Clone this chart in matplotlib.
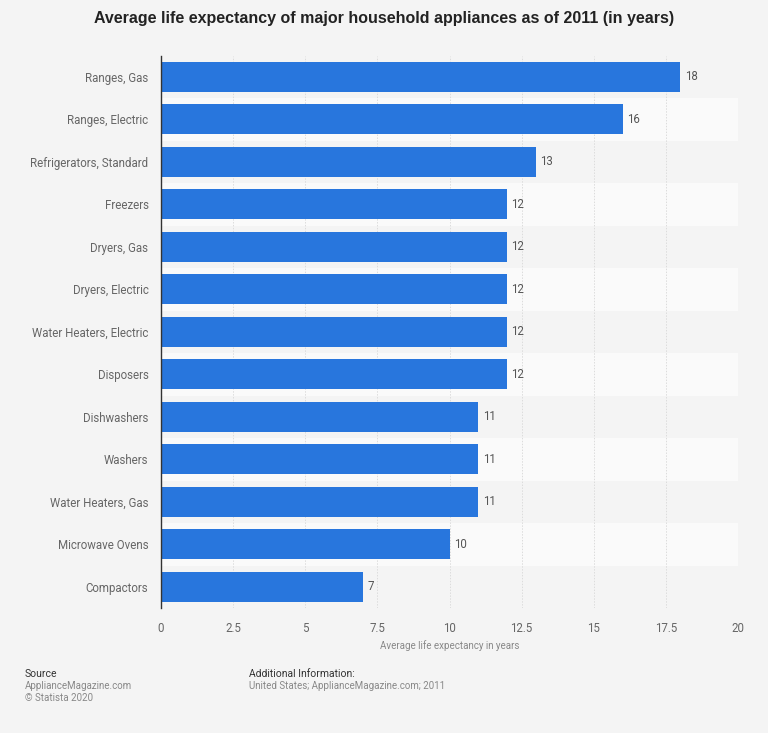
import matplotlib
matplotlib.use("Agg")
import matplotlib.pyplot as plt

categories = ["Ranges, Gas", "Ranges, Electric", "Refrigerators, Standard", "Freezers",
              "Dryers, Gas", "Dryers, Electric", "Water Heaters, Electric", "Disposers",
              "Dishwashers", "Washers", "Water Heaters, Gas", "Microwave Ovens", "Compactors"]
values = [18, 16, 13, 12, 12, 12, 12, 12, 11, 11, 11, 10, 7]
xticks = [0, 2.5, 5, 7.5, 10, 12.5, 15, 17.5, 20]
xtick_labels = ["0", "2.5", "5", "7.5", "10", "12.5", "15", "17.5", "20"]

plt.rcParams['font.family'] = ['Roboto', 'DejaVu Sans']
BG = "#f4f4f4"
fig = plt.figure(figsize=(7.68, 7.33), dpi=100, facecolor=BG)
ax = fig.add_axes([161/768, 1-608/733, (738-161)/768, (608-55.5)/733])
ax.set_facecolor(BG)

n = len(categories)
ypos = list(range(n))
for i in ypos:
    if i % 2 == 1:
        ax.axhspan(i-0.5, i+0.5, color="#fafafa", zorder=0, lw=0)

ax.barh(ypos, values, height=0.7, color="#2876dd", zorder=3)
for y, v in zip(ypos, values):
    ax.text(v + 0.15, y, str(v), va="center", ha="left", fontsize=8.3, color="#555555")

ax.set_ylim(n-0.5, -0.5)
ax.set_xlim(0, 20)
ax.set_yticks(ypos)
ax.set_yticklabels(categories, fontsize=8.3, color="#666666")
ax.set_xticks(xticks)
ax.set_xticklabels(xtick_labels, fontsize=8.3, color="#666666")
ax.tick_params(axis="both", length=0)
ax.tick_params(axis="y", pad=9)
ax.tick_params(axis="x", pad=10)
ax.grid(axis="x", color="#dcdcdc", linestyle=(0, (1.5, 1.5)), lw=0.7, zorder=1)
ax.set_axisbelow(True)
for s in ["top", "right", "bottom"]:
    ax.spines[s].set_visible(False)
ax.spines["left"].set_color("#333333")
ax.spines["left"].set_linewidth(1.0)
ax.spines["left"].set_zorder(4)
ax.set_xlabel("Average life expectancy in years", fontsize=7, color="#888888", labelpad=4)

fig.text(0.5, 1-18/733, "Average life expectancy of major household appliances as of 2011 (in years)",
         ha="center", va="center", fontsize=11.5, fontweight="bold", color="#222222",
         family=['Liberation Sans', 'DejaVu Sans'])

fig.text(25/768, 1-674/733, "Source", fontsize=7.5, color="#333333", va="center")
fig.text(25/768, 1-686/733, "ApplianceMagazine.com", fontsize=7, color="#888888", va="center")
fig.text(25/768, 1-698/733, "\u00a9 Statista 2020", fontsize=7, color="#888888", va="center")
fig.text(249/768, 1-674/733, "Additional Information:", fontsize=7.5, color="#333333", va="center")
fig.text(249/768, 1-686/733, "United States; ApplianceMagazine.com; 2011", fontsize=7, color="#888888", va="center")

fig.savefig("out.png", dpi=100, facecolor=BG)
